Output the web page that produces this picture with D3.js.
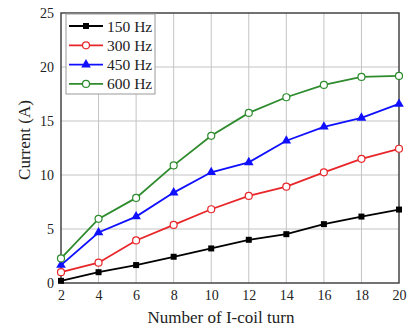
<!DOCTYPE html>
<html><head><meta charset="utf-8">
<script src="https://cdn.jsdelivr.net/npm/d3@7"></script>
<style>body{margin:0;background:#fff}svg{display:block}text{font-family:"Liberation Serif","DejaVu Serif",serif}</style>
</head><body>
<script>
const turns = [2,4,6,8,10,12,14,16,18,20];
const s150 = [0.2,1.0,1.66,2.43,3.2,4.0,4.52,5.45,6.15,6.8];
const s300 = [1.0,1.88,3.94,5.38,6.83,8.06,8.92,10.25,11.5,12.43];
const s450 = [1.66,4.68,6.15,8.37,10.25,11.17,13.17,14.46,15.29,16.58];
const s600 = [2.28,5.94,7.88,10.89,13.63,15.75,17.2,18.34,19.08,19.17];
const seriesNames = ["150 Hz","300 Hz","450 Hz","600 Hz"];
const xTicks = [2,4,6,8,10,12,14,16,18,20];
const yTicks = [0,5,10,15,20,25];

const series = [
  {name: seriesNames[0], vals: s150, color: "#000000", marker: "square"},
  {name: seriesNames[1], vals: s300, color: "#e8262a", marker: "circle"},
  {name: seriesNames[2], vals: s450, color: "#1010ff", marker: "triangle"},
  {name: seriesNames[3], vals: s600, color: "#2e8b2e", marker: "circle"}
];

const W = 407, H = 330;
const m = {l: 61, r: 8, t: 13, b: 47};
const svg = d3.select("body").append("svg").attr("width", W).attr("height", H);
const x = d3.scaleLinear().domain([2,20]).range([m.l, W - m.r]);
const y = d3.scaleLinear().domain([0,25]).range([H - m.b, m.t]);

// grid
svg.append("g").selectAll("line").data(xTicks.slice(1,-1)).join("line")
  .attr("x1", d => x(d)).attr("x2", d => x(d)).attr("y1", y(0)).attr("y2", y(25))
  .attr("stroke", "#c4c4c4").attr("stroke-width", 1);
svg.append("g").selectAll("line").data(yTicks.slice(1,-1)).join("line")
  .attr("x1", x(2)).attr("x2", x(20)).attr("y1", d => y(d)).attr("y2", d => y(d))
  .attr("stroke", "#c4c4c4").attr("stroke-width", 1);

// axes
const xa = svg.append("g").attr("transform", `translate(0,${y(0)})`)
  .call(d3.axisBottom(x).tickValues(xTicks).tickSize(0).tickPadding(7));
const ya = svg.append("g").attr("transform", `translate(${x(2)},0)`)
  .call(d3.axisLeft(y).tickValues(yTicks).tickSize(0).tickPadding(7));
[xa, ya].forEach(a => {
  a.attr("font-family", null).attr("font-size", null);
  a.select(".domain").remove();
  a.selectAll("text").attr("font-size", 14).attr("fill", "#222");
});
// frame
svg.append("rect").attr("x", x(2)).attr("y", y(25)).attr("width", x(20) - x(2)).attr("height", y(0) - y(25))
  .attr("fill", "none").attr("stroke", "#444").attr("stroke-width", 1.5);

// lines
const line = d3.line().x((d, i) => x(turns[i])).y(d => y(d));
const symSize = {square: 36, triangle: 40};
function drawMarker(g, type, color, cx, cy) {
  if (type === "circle") {
    g.append("circle").attr("cx", cx).attr("cy", cy).attr("r", 3.5)
      .attr("fill", "#fff").attr("stroke", color).attr("stroke-width", 1.2);
  } else {
    const sym = type === "square" ? d3.symbolSquare : d3.symbolTriangle;
    g.append("path").attr("d", d3.symbol().type(sym).size(symSize[type])())
      .attr("transform", `translate(${cx},${cy})`).attr("fill", color);
  }
}
series.forEach(s => {
  const g = svg.append("g");
  g.append("path").attr("d", line(s.vals)).attr("fill", "none")
    .attr("stroke", s.color).attr("stroke-width", 1.8);
  s.vals.forEach((v, i) => drawMarker(g, s.marker, s.color, x(turns[i]), y(v)));
});

// legend
const lg = svg.append("g");
lg.append("rect").attr("x", 66).attr("y", 14).attr("width", 89).attr("height", 80)
  .attr("fill", "#fff").attr("stroke", "#999").attr("stroke-width", 1);
series.forEach((s, i) => {
  const ly = 26 + i * 19.3;
  lg.append("line").attr("x1", 69).attr("x2", 103).attr("y1", ly).attr("y2", ly)
    .attr("stroke", s.color).attr("stroke-width", 1.8);
  drawMarker(lg, s.marker, s.color, 86, ly);
  lg.append("text").attr("x", 107).attr("y", ly + 5.5).attr("font-size", 15.5).attr("fill", "#222").text(s.name);
});

// titles
svg.append("text").attr("x", 221).attr("y", 323).attr("text-anchor", "middle")
  .attr("font-size", 17).attr("fill", "#222").text("Number of I-coil turn");
svg.append("text").attr("transform", `translate(30,140) rotate(-90)`)
  .attr("text-anchor", "middle").attr("font-size", 17).attr("fill", "#222").text("Current (A)");
</script>
</body></html>
